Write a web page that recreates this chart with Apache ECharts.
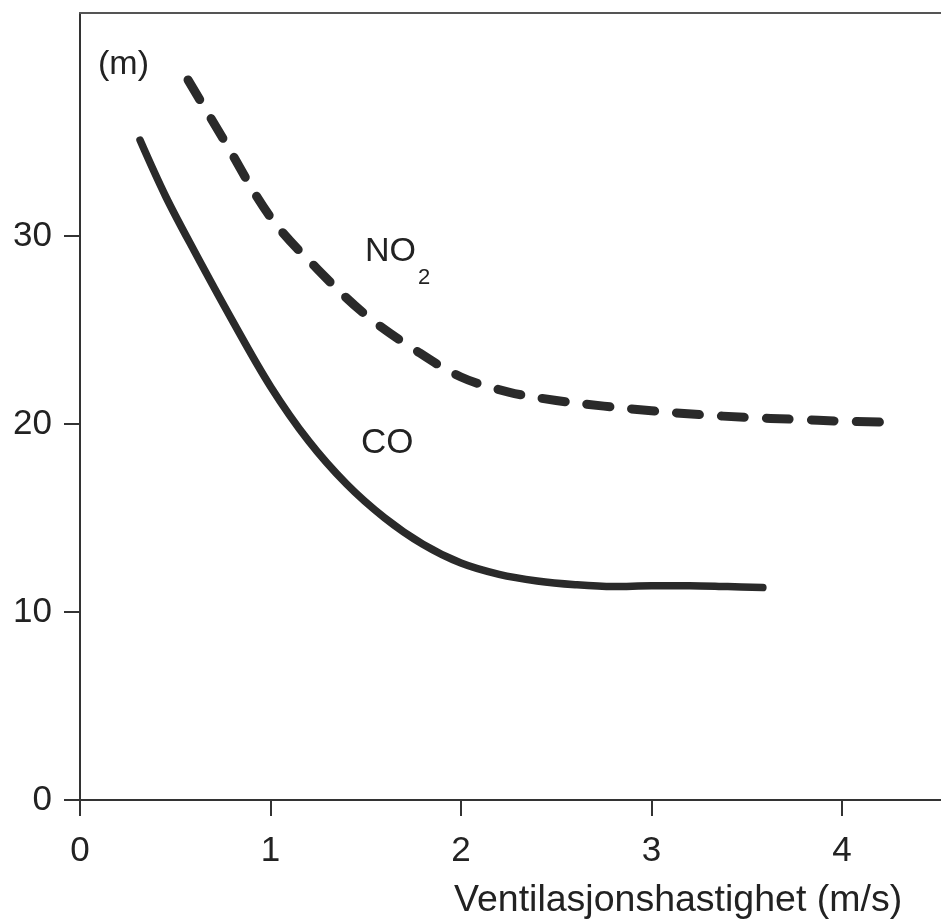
<!DOCTYPE html>
<html>
<head>
<meta charset="utf-8">
<script src="https://cdn.jsdelivr.net/npm/echarts@6/dist/echarts.min.js"></script>
<style>
html,body{margin:0;padding:0;background:#fff;}
#chart{width:941px;height:920px;}
</style>
</head>
<body>
<div id="chart"></div>
<script>
// Data
const xTicks = [0, 1, 2, 3, 4];
const yTicks = [0, 10, 20, 30];
const coX = [0.315, 0.45, 0.6, 0.8, 1.0, 1.2, 1.4, 1.6, 1.8, 2.0, 2.2, 2.4, 2.6, 2.8, 3.0, 3.2, 3.4, 3.585];
const coY = [35.1, 32.1, 29.2, 25.5, 22.0, 19.1, 16.8, 15.0, 13.6, 12.6, 12.0, 11.65, 11.45, 11.35, 11.4, 11.4, 11.35, 11.3];
const no2X = [0.567, 0.75, 1.0, 1.25, 1.5, 1.75, 2.0, 2.25, 2.5, 2.75, 3.0, 3.25, 3.5, 3.75, 4.0, 4.2];
const no2Y = [38.3, 35.2, 31.0, 28.2, 25.8, 24.0, 22.5, 21.7, 21.25, 20.95, 20.7, 20.5, 20.35, 20.25, 20.15, 20.1];
const xName = 'Ventilasjonshastighet (m/s)';
const yUnit = '(m)';

const FONT = 'Liberation Sans';
const INK = '#2a2a2a';
const chart = echarts.init(document.getElementById('chart'), null, {renderer: 'canvas'});
const pair = (xs, ys) => xs.map((x, i) => [x, ys[i]]);

chart.setOption({
  animation: false,
  backgroundColor: '#fff',
  grid: {left: 80, right: 0, top: 13, bottom: 120, containLabel: false},
  xAxis: [{
    type: 'value', min: 0, max: 4.52, interval: 1,
    axisLine: {show: true, lineStyle: {color: '#333', width: 2}},
    axisTick: {show: true, length: 16, lineStyle: {color: '#333', width: 2}, customValues: xTicks},
    axisLabel: {fontSize: 35, fontFamily: FONT, color: '#222', margin: 34, customValues: xTicks},
    splitLine: {show: false}
  }, {
    type: 'value', position: 'top', min: 0, max: 4.52,
    axisLine: {show: true, lineStyle: {color: '#555', width: 2}},
    axisTick: {show: false}, axisLabel: {show: false}, splitLine: {show: false}
  }],
  yAxis: {
    type: 'value', min: 0, max: 41.86, interval: 10,
    axisLine: {show: true, lineStyle: {color: '#333', width: 2}},
    axisTick: {show: true, length: 16, lineStyle: {color: '#333', width: 2}, customValues: yTicks},
    axisLabel: {fontSize: 35, fontFamily: FONT, color: '#222', margin: 28, customValues: yTicks},
    splitLine: {show: false}
  },
  series: [{
    name: 'CO', type: 'line', smooth: 0.35, showSymbol: false, xAxisIndex: 0,
    data: pair(coX, coY),
    lineStyle: {color: INK, width: 7.5, cap: 'round', join: 'round'}
  }, {
    name: 'NO2', type: 'line', smooth: 0.35, showSymbol: false, xAxisIndex: 0,
    data: pair(no2X, no2Y),
    lineStyle: {color: INK, width: 9, type: [23, 22], dashOffset: 0, cap: 'round', join: 'round'}
  }],
  graphic: [
    {type: 'text', left: 98, top: 48, style: {text: yUnit, fontSize: 34, fontFamily: FONT, fill: '#222'}},
    {type: 'text', left: 365, top: 235, style: {text: 'NO', fontSize: 34, fontFamily: FONT, fill: '#222'}},
    {type: 'text', left: 418, top: 267, style: {text: '2', fontSize: 22, fontFamily: FONT, fill: '#222'}},
    {type: 'text', left: 361, top: 426, style: {text: 'CO', fontSize: 35, fontFamily: FONT, fill: '#222'}},
    {type: 'text', left: 454, top: 882, style: {text: xName, fontSize: 37.5, fontFamily: FONT, fill: '#222'}}
  ]
});
</script>
</body>
</html>
